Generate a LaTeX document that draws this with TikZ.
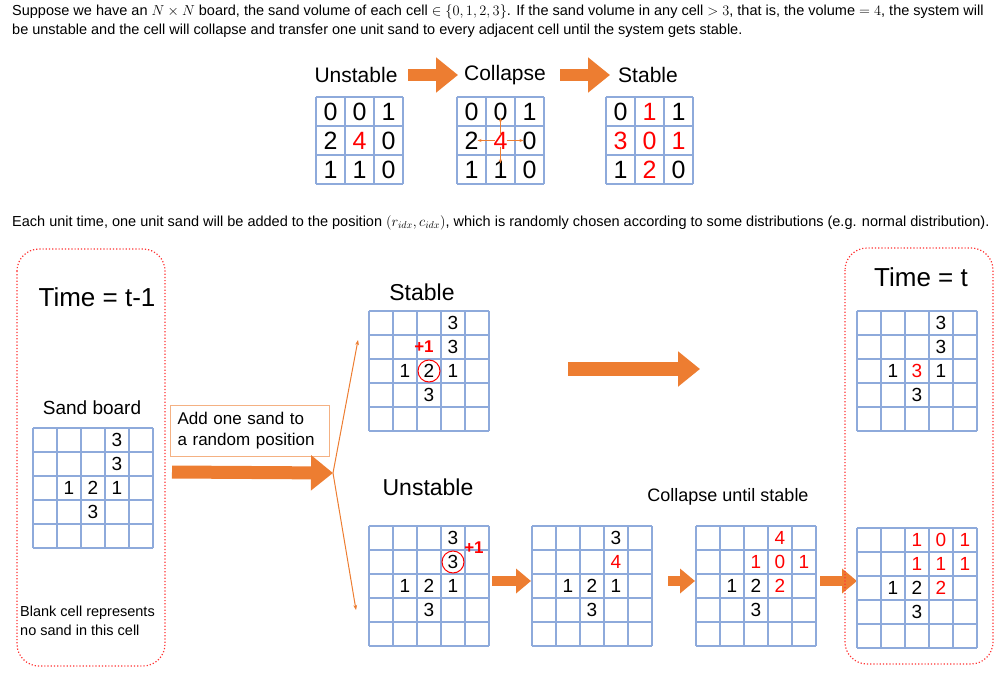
\documentclass[tikz,border=0pt]{standalone}
\usepackage{fontspec}
\setmainfont{Liberation Sans}
\usetikzlibrary{arrows.meta}
\definecolor{gridblue}{RGB}{142,170,219}
\definecolor{sandorange}{RGB}{237,125,49}
\definecolor{boxorange}{RGB}{244,177,131}
\tikzset{
  gridline/.style={draw=gridblue, line width=1.8pt},
  num/.style={inner sep=0pt, font=\fontsize{19}{19}\selectfont},
  bignum/.style={inner sep=0pt, font=\fontsize{25}{25}\selectfont},
  title/.style={font=\fontsize{23}{23}\selectfont},
  timebox/.style={draw=red!80, dotted, line width=1.2pt, rounded corners=22pt},
  bigarrow/.style={draw=sandorange, line width=#1, -{Triangle[length=22pt,width=34pt]}},
  smallarrow/.style={draw=sandorange, line width=10pt, -{Triangle[length=15pt,width=24pt]}},
  plusone/.style={text=red, font=\fontsize{17}{17}\selectfont\bfseries, inner sep=0pt},
  picked/.style={draw=red, circle, line width=1pt, minimum size=22pt, inner sep=0pt},
  plain/.style={anchor=west, inner sep=0pt, font=\fontsize{14.5}{17}\selectfont},
}
% grid of n x n cells: name, x, y, n, cell size
\newcommand{\sandboard}[5]{%
  \foreach \i in {0,...,#4} {
    \draw[gridline] ({#2+\i*#5},#3) -- ({#2+\i*#5},{#3+#4*#5});
    \draw[gridline] (#2,{#3+\i*#5}) -- ({#2+#4*#5},{#3+\i*#5});
  }
  \coordinate (#1) at (#2,#3);}
% values: name, x, y, cell size, style, list of row/col/value/colour
\newcommand{\sandvals}[6]{%
  \foreach \r/\c/\v/\col in {#6}
    \node[#5, text=\col] (#1-\r-\c) at ({#2+(\c+0.5)*#4},{#3+(\r+0.5)*#4}) {\v};}
\begin{document}
\begin{tikzpicture}[x=1pt,y=-1pt]
  \useasboundingbox (0,0) rectangle (1004,688);

  % header text
  \node[plain] (intro1) at (12,12)
    {Suppose we have an $N\times N$ board, the sand volume of each cell $\in\{0,1,2,3\}$. If the sand volume in any cell $>3$, that is, the volume $=4$, the system will};
  \node[plain] (intro2) at (12,31)
    {be unstable and the cell will collapse and transfer one unit sand to every adjacent cell until the system gets stable.};

  % small example
  \node[font=\fontsize{21}{21}\selectfont] (lunst) at (356,75) {Unstable};
  \node[font=\fontsize{21}{21}\selectfont] (lcoll) at (505,75) {Collapse};
  \node[font=\fontsize{21}{21}\selectfont] (lstab) at (648,75) {Stable};
  \draw[bigarrow=12pt] (408,75) coordinate (a1) -- (458,75) coordinate (a2);
  \draw[bigarrow=12pt] (560,75) coordinate (a3) -- (610,75) coordinate (a4);

  \sandboard{gu}{316}{97}{3}{29}
  \sandvals{gu}{316}{97}{29}{bignum}{0/0/0/black,0/1/0/black,0/2/1/black,1/0/2/black,1/1/4/red,1/2/0/black,2/0/1/black,2/1/1/black,2/2/0/black}
  \sandboard{gc}{457}{97}{3}{29}
  \sandvals{gc}{457}{97}{29}{bignum}{0/0/0/black,0/1/0/black,0/2/1/black,1/0/2/black,1/1/4/red,1/2/0/black,2/0/1/black,2/1/1/black,2/2/0/black}
  \foreach \t in {0-1,1-0,1-2,2-1}
    \draw[sandorange, line width=1pt, shorten <=6pt, shorten >=6pt, -{Stealth[length=4pt]}] (gc-1-1.center) -- (gc-\t.center);
  \sandboard{gs}{606}{97}{3}{29}
  \sandvals{gs}{606}{97}{29}{bignum}{0/0/0/black,0/1/1/red,0/2/1/black,1/0/3/red,1/1/0/red,1/2/1/red,2/0/1/black,2/1/2/red,2/2/0/black}

  \node[plain] (intro3) at (12,223)
    {Each unit time, one unit sand will be added to the position $(r_{idx},c_{idx})$, which is randomly chosen according to some distributions (e.g. normal distribution).};

  % time t-1
  \draw[timebox] (17,249) rectangle (165,666);
  \node[title, font=\fontsize{26}{26}\selectfont] (tprev) at (97,297) {Time = t-1};
  \node[font=\fontsize{19}{19}\selectfont] (sandlbl) at (92,408) {Sand board};
  \sandboard{g0}{33}{428}{5}{24}
  \sandvals{g0}{33}{428}{24}{num}{0/3/3/black,1/3/3/black,2/1/1/black,2/2/2/black,2/3/1/black,3/2/3/black}
  \node[anchor=north west, inner sep=0pt, align=left, font=\fontsize{14.5}{18.5}\selectfont] (blank) at (20,606)
    {Blank cell represents\\no sand in this cell};

  % add one sand
  \node[draw=boxorange, line width=1pt, anchor=north west, align=left, inner sep=7pt,
        text width=145pt, minimum height=51pt, font=\fontsize{17}{21}\selectfont] (addbox) at (170,405)
    {Add one sand to\\a random position};
  \coordinate (split) at (333,473);
  \draw[bigarrow=13pt] (172,472) -- (split);
  \coordinate (upend) at (358,340);
  \coordinate (downend) at (356,610);
  \draw[sandorange, line width=1pt, -{Stealth[length=5pt]}] (split) -- (upend);
  \draw[sandorange, line width=1pt, -{Stealth[length=5pt]}] (split) -- (downend);

  % stable branch
  \node[title] (lst) at (422,292) {Stable};
  \sandboard{g1}{369}{311}{5}{24}
  \sandvals{g1}{369}{311}{24}{num}{0/3/3/black,1/3/3/black,2/1/1/black,2/2/2/black,2/3/1/black,3/2/3/black}
  \node[picked] (c1) at (g1-2-2) {};
  \node[plusone] (p1) at (424,347) {+1};
  \draw[bigarrow=14pt] (568,369) coordinate (m1) -- (700,369) coordinate (m2);

  % unstable branch
  \node[title] (lun) at (428,487) {Unstable};
  \node[font=\fontsize{18}{18}\selectfont] (lcol) at (728,497) {Collapse until stable};
  \sandboard{g2}{369}{526}{5}{24}
  \sandvals{g2}{369}{526}{24}{num}{0/3/3/black,1/3/3/black,2/1/1/black,2/2/2/black,2/3/1/black,3/2/3/black}
  \node[picked] (c2) at (g2-1-3) {};
  \node[plusone] (p2) at (474,548) {+1};
  \sandboard{g3}{532}{526}{5}{24}
  \sandvals{g3}{532}{526}{24}{num}{0/3/3/black,1/3/4/red,2/1/1/black,2/2/2/black,2/3/1/black,3/2/3/black}
  \sandboard{g4}{696}{526}{5}{24}
  \sandvals{g4}{696}{526}{24}{num}{0/3/4/red,1/2/1/red,1/3/0/red,1/4/1/red,2/1/1/black,2/2/2/black,2/3/2/red,3/2/3/black}
  \draw[smallarrow] (492,581) -- (531,581);
  \draw[smallarrow] (668,581) -- (695,581);
  \draw[smallarrow] (820,581) -- (857,581);

  % time t
  \draw[timebox] (845,248) rectangle (993,664);
  \node[title, font=\fontsize{26}{26}\selectfont] (tnow) at (921,277) {Time = t};
  \sandboard{g5}{857}{311}{5}{24}
  \sandvals{g5}{857}{311}{24}{num}{0/3/3/black,1/3/3/black,2/1/1/black,2/2/3/red,2/3/1/black,3/2/3/black}
  \sandboard{g6}{857}{528}{5}{24}
  \sandvals{g6}{857}{528}{24}{num}{0/2/1/red,0/3/0/red,0/4/1/red,1/2/1/red,1/3/1/red,1/4/1/red,2/1/1/black,2/2/2/black,2/3/2/red,3/2/3/black}
\end{tikzpicture}
\end{document}
